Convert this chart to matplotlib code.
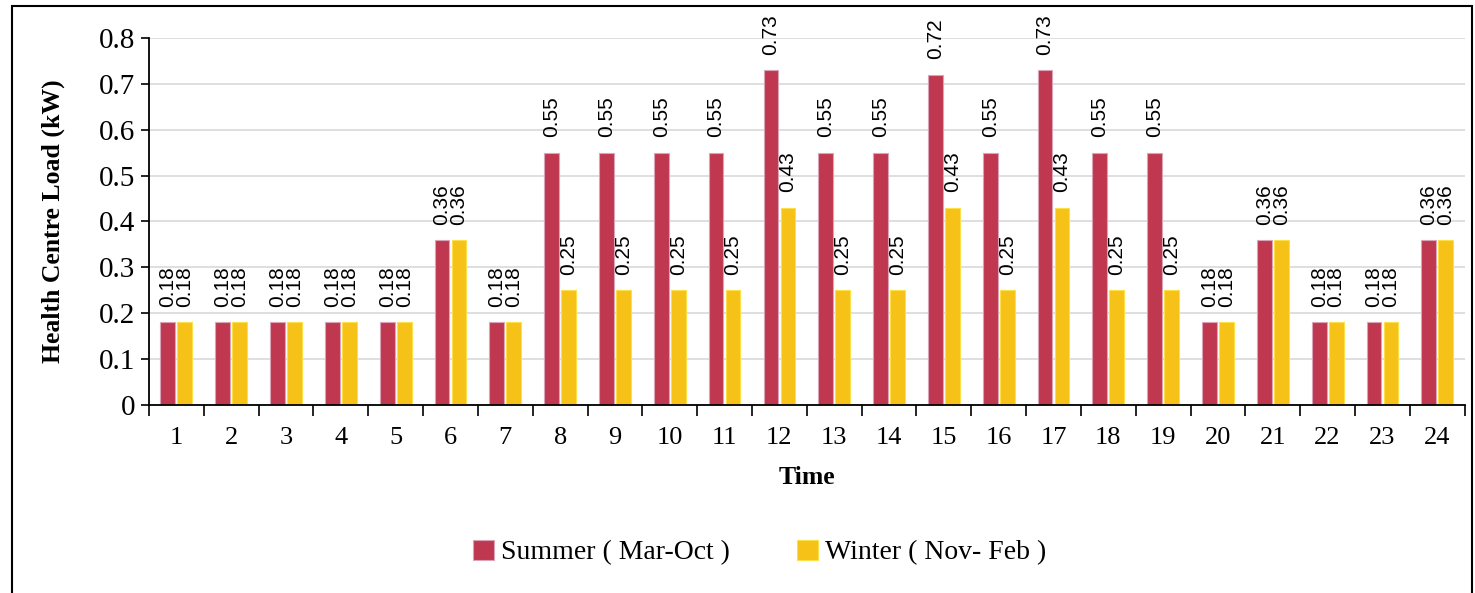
import numpy as np
import matplotlib.pyplot as plt
from matplotlib.patches import Rectangle

hours = list(range(1, 25))
summer = [0.18, 0.18, 0.18, 0.18, 0.18, 0.36, 0.18, 0.55, 0.55, 0.55, 0.55, 0.73,
          0.55, 0.55, 0.72, 0.55, 0.73, 0.55, 0.55, 0.18, 0.36, 0.18, 0.18, 0.36]
winter = [0.18, 0.18, 0.18, 0.18, 0.18, 0.36, 0.18, 0.25, 0.25, 0.25, 0.25, 0.43,
          0.25, 0.25, 0.43, 0.25, 0.43, 0.25, 0.25, 0.18, 0.36, 0.18, 0.18, 0.36]
y_ticks = [0, 0.1, 0.2, 0.3, 0.4, 0.5, 0.6, 0.7, 0.8]
y_labels = ['0', '0.1', '0.2', '0.3', '0.4', '0.5', '0.6', '0.7', '0.8']

serif = ['Liberation Serif', 'DejaVu Serif']
narrow = ['Liberation Sans Narrow', 'Liberation Sans', 'DejaVu Sans']

fig = plt.figure(figsize=(14.75, 5.93), dpi=100)
ax = fig.add_axes([0.101, 0.317, 0.892, 0.619])

x = np.arange(len(hours))
w = 0.27
off = 0.155
b1 = ax.bar(x - off, summer, w, color='#C0384F', edgecolor='#D9A3B8', linewidth=0.8,
            label='Summer ( Mar-Oct )', zorder=3)
b2 = ax.bar(x + off, winter, w, color='#F6C218', edgecolor='#FBE04A', linewidth=0.8,
            label='Winter ( Nov- Feb )', zorder=3)

# value labels, rotated above each bar
for bars, vals in ((b1, summer), (b2, winter)):
    for rect, v in zip(bars, vals):
        ax.annotate(f'{v:.2f}', (rect.get_x() + rect.get_width() / 2, v),
                    xytext=(0, 11), textcoords='offset points', rotation=90,
                    ha='center', va='bottom', fontsize=15, family=narrow,
                    annotation_clip=False)

ax.set_xlim(-0.5, len(hours) - 0.5)
ax.set_ylim(0, 0.8)
ax.set_yticks(y_ticks)
ax.set_yticklabels(y_labels, fontsize=21, family=serif)
ax.set_xticks(x)
ax.set_xticklabels([str(h) for h in hours], fontsize=19, family=serif)
ax.set_xticks(np.arange(-0.5, len(hours), 1), minor=True)
ax.tick_params(axis='x', which='major', length=0, pad=16)
ax.tick_params(axis='x', which='minor', length=8, width=1.2, direction='out')
ax.tick_params(axis='y', length=6, width=1.2, direction='out', pad=4)

ax.grid(axis='y', color='#D9D9D9', linewidth=1.2, zorder=0)
ax.set_axisbelow(True)
for side in ('top', 'right'):
    ax.spines[side].set_visible(False)
for side in ('left', 'bottom'):
    ax.spines[side].set_linewidth(1.3)
    ax.spines[side].set_zorder(4)

ax.set_ylabel('Health Centre Load (kW)', fontsize=18.5, fontweight='bold', family=serif,
              labelpad=24)
ax.set_xlabel('Time', fontsize=18.5, fontweight='bold', family=serif, labelpad=12)

fig.legend(handles=[b1, b2], loc='center', bbox_to_anchor=(0.515, 0.068), ncol=2,
           frameon=False, prop={'family': serif, 'size': 20}, handlelength=0.75,
           handleheight=0.75, handletextpad=0.25, columnspacing=2.4)

# outer frame around the figure
fig.add_artist(Rectangle((0.008, -0.02), 0.99, 1.01, transform=fig.transFigure,
                         fill=False, edgecolor='black', linewidth=1.5))

fig.savefig('out.png', dpi=100)
